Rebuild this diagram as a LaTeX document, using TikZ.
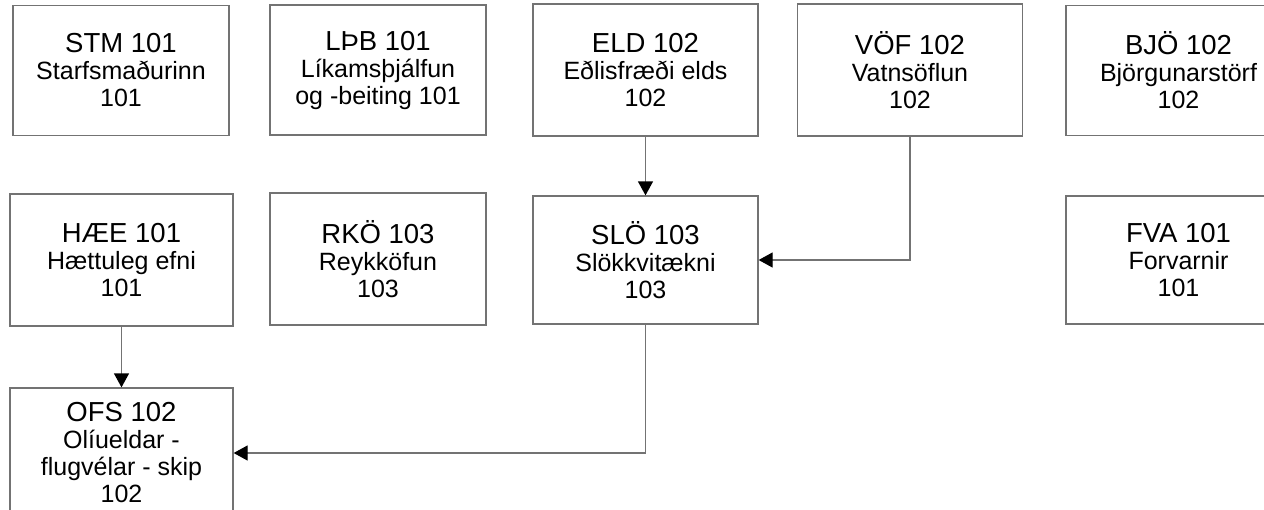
\documentclass[tikz,border=0pt]{standalone}
\usepackage{fontspec}
\setmainfont{Liberation Sans}
\usepackage{xcolor}
\usetikzlibrary{arrows.meta}

\begin{document}
\begin{tikzpicture}
    [x=1pt,y=-1pt,
    font=\fontsize{25}{27}\selectfont,
    course/.style={shape=rectangle,draw=black!55,line width=1.3pt,minimum width=225pt,minimum height=130pt,align=center,inner sep=0pt},
    narrow/.style={course,minimum width=216pt},
    arc/.style={-{Triangle[length=14pt,width=15pt,black]},draw=black!55,line width=1.3pt}]

    \useasboundingbox (0,0) rectangle (1264,509);

    \node (stm) [narrow] at (121,70.5) {{\fontsize{27.5}{27}\selectfont STM 101}\\Starfsmaðurinn\\101};
    \node (lthb) [narrow] at (378,70) {{\fontsize{27.5}{27}\selectfont LÞB 101}\\Líkamsþjálfun\\og -beiting 101};
    \node (eld) [course,minimum height=132pt] at (645.5,70) {{\fontsize{27.5}{27}\selectfont ELD 102}\\Eðlisfræði elds\\102};
    \node (vof) [course,minimum height=132pt] at (910,70) {{\fontsize{27.5}{27}\selectfont VÖF 102}\\Vatnsöflun\\102};
    \node (bjo) [course] at (1178.5,70.5) {{\fontsize{27.5}{27}\selectfont BJÖ 102}\\Björgunarstörf\\102};
    \node (hae) [course,minimum width=223pt,minimum height=132pt] at (121.5,260) {{\fontsize{27.5}{27}\selectfont HÆE 101}\\Hættuleg efni\\101};
    \node (rko) [narrow,minimum height=132pt] at (378,259) {{\fontsize{27.5}{27}\selectfont RKÖ 103}\\Reykköfun\\103};
    \node (slo) [course,minimum height=128pt] at (645.5,260) {{\fontsize{27.5}{27}\selectfont SLÖ 103}\\Slökkvitækni\\103};
    \node (fva) [course,minimum height=128pt] at (1178.5,260) {{\fontsize{27.5}{27}\selectfont FVA 101}\\Forvarnir\\101};
    \node (ofs) [course,minimum width=223pt] at (121.5,453) {{\fontsize{27.5}{27}\selectfont OFS 102}\\Olíueldar -\\flugvélar - skip\\102};

    \draw [arc] (eld) -- (slo);
    \draw [arc] (vof.south) |- (slo.east);
    \draw [arc] (hae) -- (ofs);
    \draw [arc] (slo.south) |- (ofs.east);

  \end{tikzpicture}
\end{document}
